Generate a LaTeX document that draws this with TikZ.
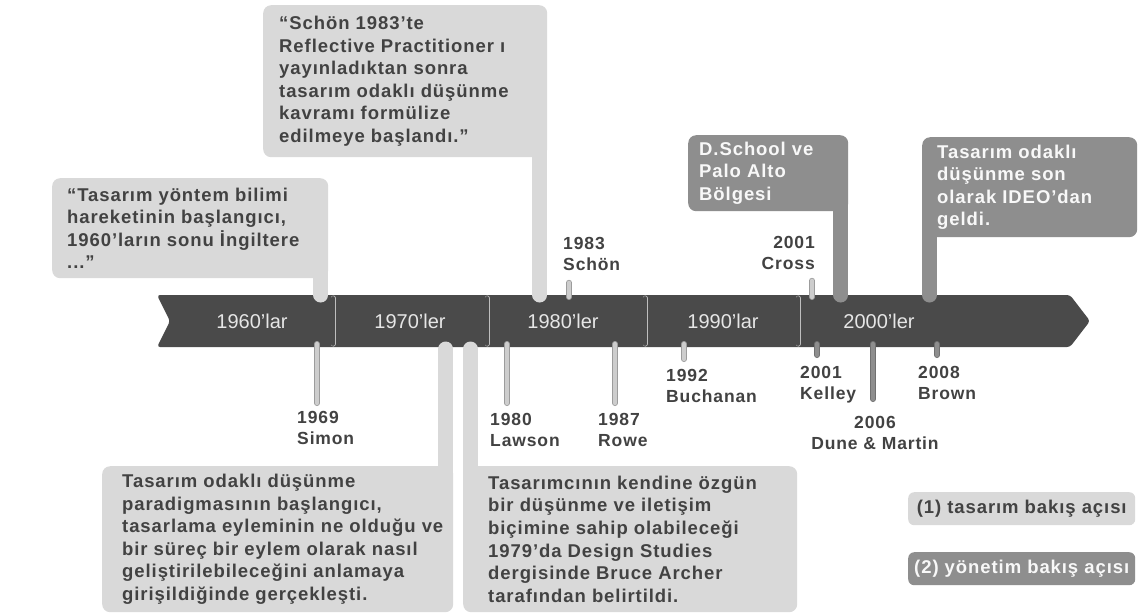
\documentclass[tikz,border=0pt]{standalone}
\usepackage{fontspec}
\setmainfont{Liberation Sans}
\newfontfamily\trackfont[LetterSpace=5]{Liberation Sans}

\definecolor{barcol}{HTML}{4A4A4A}
\definecolor{lightcol}{HTML}{D9D9D9}
\definecolor{midcol}{HTML}{8E8E8E}
\definecolor{inkcol}{HTML}{424242}
\definecolor{paper}{HTML}{F8F8F8}
\definecolor{decadecol}{HTML}{E6E6E6}
\definecolor{tickcol}{HTML}{CDCDCD}
\definecolor{rimcol}{HTML}{9C9C9C}
\definecolor{midrim}{HTML}{707070}
\definecolor{divcol}{HTML}{BEBEBE}

\begin{document}
\begin{tikzpicture}[x = 1pt, y = -1pt,
    lightbox/.style = {fill = lightcol, rounded corners = 8pt, inner sep = 0pt, anchor = north west},
    midbox/.style = {lightbox, fill = midcol},
    boxtext/.style = {anchor = west, inner sep = 0pt, align = left, text = inkcol,
        font = \trackfont\bfseries\fontsize{18.5}{22.6}\selectfont},
    midtext/.style = {boxtext, text = paper},
    pinlabel/.style = {inner sep = 0pt, align = left, text = inkcol,
        font = \trackfont\bfseries\fontsize{17.5}{21}\selectfont},
    lightstem/.style = {lightcol, line width = 15pt, line cap = round},
    midstem/.style = {midcol, line width = 15pt, line cap = round},
    lighttick/.style = {draw = rimcol, line width = .8pt, double = tickcol, double distance = 4.4pt, line cap = round},
    midtick/.style = {draw = midrim, line width = .8pt, double = midcol, double distance = 4.4pt, line cap = round},
    divider/.style = {draw = divcol, line width = .7pt, double = barcol, double distance = 3.6pt, line cap = round},
    decade/.style = {text = decadecol, font = \fontsize{20}{24}\selectfont}]

    \fill [white] (0, 0) rectangle (1139, 614);
    \useasboundingbox (0, 0) rectangle (1139, 614);

    %%%%%%%%%%%%%%%%%%%% time bar
    \fill [barcol, rounded corners = 3pt] (157, 295) -- (1070, 295) -- (1090, 321) -- (1070, 347) -- (157, 347) -- (170, 321) -- cycle;
    \coordinate (bar top) at (0, 295);
    \coordinate (bar bottom) at (0, 349);
    \coordinate (tick high) at (0, 297);
    \coordinate (tick low) at (0, 344);

    \foreach \x in {333, 487, 645, 798}
        \draw [divider] (\x, 298) -- (\x, 344);

    \node [decade] (d60) at (252, 321) {1960’lar};
    \node [decade] (d70) at (410, 321) {1970’ler};
    \node [decade] (d80) at (563, 321) {1980’ler};
    \node [decade] (d90) at (723, 321) {1990’lar};
    \node [decade] (d00) at (879, 321) {2000’ler};

    %%%%%%%%%%%%%%%%%%%% boxes above
    \node [lightbox, minimum width = 276, minimum height = 100] (yontem) at (52, 178) {};
    \node [boxtext] (yontem text) at ([xshift = 15]yontem.west) {“Tasarım yöntem bilimi\\hareketinin başlangıcı,\\1960’ların sonu İngiltere\\...”};
    \draw [lightstem] ([xshift = -7.5, yshift = 10]yontem.south east) -- ([xshift = -7.5]yontem.south east |- bar top);

    \node [lightbox, minimum width = 284, minimum height = 152] (reflective) at (263, 5) {};
    \node [boxtext] (reflective text) at ([xshift = 16]reflective.west) {“Schön 1983’te\\Reflective Practitioner ı\\yayınladıktan sonra\\tasarım odaklı düşünme\\kavramı formülize\\edilmeye başlandı.”};
    \draw [lightstem] ([xshift = -7.5, yshift = 10]reflective.south east) -- ([xshift = -7.5]reflective.south east |- bar top);

    \node [midbox, minimum width = 160, minimum height = 76] (dschool) at (688, 135) {};
    \node [midtext] (dschool text) at ([xshift = 11]dschool.west) {D.School ve\\Palo Alto\\Bölgesi};
    \draw [midstem] ([xshift = -7.5, yshift = 10]dschool.south east) -- ([xshift = -7.5]dschool.south east |- bar top);

    \node [midbox, minimum width = 215, minimum height = 100] (ideo) at (922, 137) {};
    \node [midtext] (ideo text) at ([xshift = 15]ideo.west) {Tasarım odaklı\\düşünme son\\olarak IDEO’dan\\geldi.};
    \draw [midstem] ([xshift = 7.5, yshift = 10]ideo.south west) -- ([xshift = 7.5]ideo.south west |- bar top);

    %%%%%%%%%%%%%%%%%%%% years above
    \node [pinlabel, anchor = north west] (schon) at (563, 237) {1983\\Schön};
    \draw [lighttick] ([xshift = 6, yshift = -12]schon.south west) -- ([xshift = 6]schon.south west |- tick high);

    \node [pinlabel, align = right, anchor = north east] (cross) at (815, 236) {2001\\Cross};
    \draw [lighttick] ([xshift = -3, yshift = -11]cross.south east) -- ([xshift = -3]cross.south east |- tick high);

    %%%%%%%%%%%%%%%%%%%% years below
    \node [pinlabel, anchor = north west] (simon) at (297, 411) {1969\\Simon};
    \draw [lighttick] ([xshift = 20, yshift = 8]simon.north west) -- ([xshift = 20]simon.north west |- tick low);

    \node [pinlabel, anchor = north west] (lawson) at (490, 413) {1980\\Lawson};
    \draw [lighttick] ([xshift = 17, yshift = 10]lawson.north west) -- ([xshift = 17]lawson.north west |- tick low);

    \node [pinlabel, anchor = north west] (rowe) at (598, 413) {1987\\Rowe};
    \draw [lighttick] ([xshift = 17, yshift = 10]rowe.north west) -- ([xshift = 17]rowe.north west |- tick low);

    \node [pinlabel, anchor = north west] (buchanan) at (666, 369) {1992\\Buchanan};
    \draw [lighttick] ([xshift = 18, yshift = 10]buchanan.north west) -- ([xshift = 18]buchanan.north west |- tick low);

    \node [pinlabel, anchor = north west] (kelley) at (800, 366) {2001\\Kelley};
    \draw [midtick] ([xshift = 17, yshift = 11]kelley.north west) -- ([xshift = 17]kelley.north west |- tick low);

    \node [pinlabel, align = center, anchor = north] (dune) at (875, 416) {2006\\Dune \& Martin};
    \draw [midtick] ([xshift = -2, yshift = 17]dune.north) -- ([xshift = -2]dune.north |- tick low);

    \node [pinlabel, anchor = north west] (brown) at (918, 366) {2008\\Brown};
    \draw [midtick] ([xshift = 19, yshift = 11]brown.north west) -- ([xshift = 19]brown.north west |- tick low);

    %%%%%%%%%%%%%%%%%%%% boxes below
    \node [lightbox, minimum width = 351, minimum height = 146] (paradigma) at (102, 466) {};
    \node [boxtext] (paradigma text) at ([xshift = 20]paradigma.west) {Tasarım odaklı düşünme\\paradigmasının başlangıcı,\\tasarlama eyleminin ne olduğu ve\\bir süreç bir eylem olarak nasıl\\geliştirilebileceğini anlamaya\\girişildiğinde gerçekleşti.};
    \draw [lightstem] ([xshift = -7.5, yshift = -10]paradigma.north east) -- ([xshift = -7.5]paradigma.north east |- bar bottom);

    \node [lightbox, minimum width = 334, minimum height = 146] (archer) at (463, 466) {};
    \node [boxtext] (archer text) at ([xshift = 25]archer.west) {Tasarımcının kendine özgün\\bir düşünme ve iletişim\\biçimine sahip olabileceği\\1979’da Design Studies\\dergisinde Bruce Archer\\tarafından belirtildi.};
    \draw [lightstem] ([xshift = 7.5, yshift = -10]archer.north west) -- ([xshift = 7.5]archer.north west |- bar bottom);

    %%%%%%%%%%%%%%%%%%%% legend
    \node [lightbox, rounded corners = 6pt, minimum width = 227, minimum height = 33, text = inkcol,
        font = \trackfont\bfseries\fontsize{18.5}{20}\selectfont] (view one) at (908, 492) {(1) tasarım bakış açısı};
    \node [midbox, rounded corners = 6pt, minimum width = 227, minimum height = 33, text = paper,
        font = \trackfont\bfseries\fontsize{18.5}{20}\selectfont] (view two) at (908, 552) {(2) yönetim bakış açısı};
\end{tikzpicture}
\end{document}
